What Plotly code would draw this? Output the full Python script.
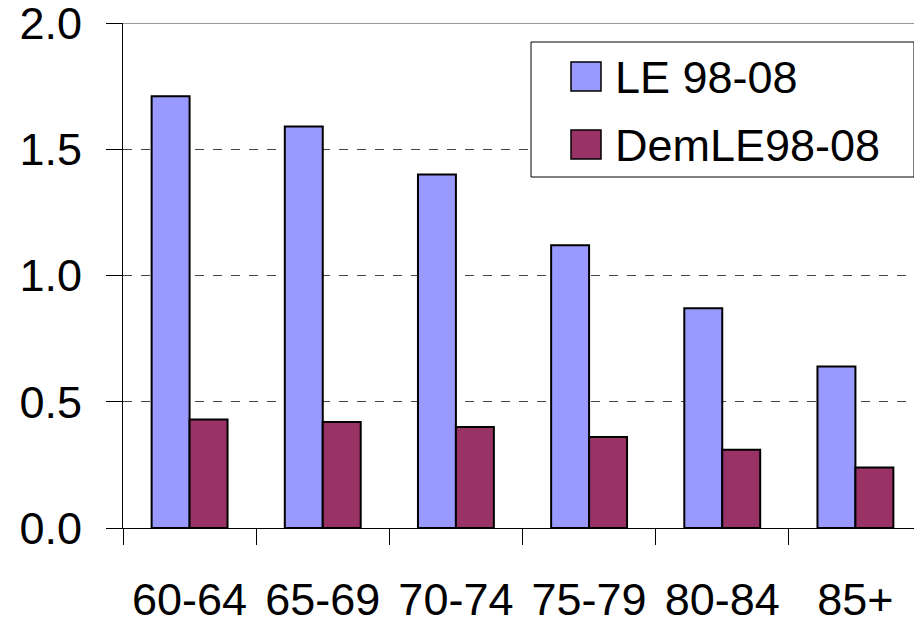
import plotly.graph_objects as go

categories = ["60-64", "65-69", "70-74", "75-79", "80-84", "85+"]
le_values = [1.71, 1.59, 1.40, 1.12, 0.87, 0.64]
dem_values = [0.43, 0.42, 0.40, 0.36, 0.31, 0.24]
y_ticks = [0.0, 0.5, 1.0, 1.5, 2.0]
y_ticklabels = ["0.0", "0.5", "1.0", "1.5", "2.0"]
series_names = ["LE 98-08", "DemLE98-08"]
series_colors = ["#9999FF", "#993366"]

# page body has an 8px margin, so the figure is offset by 8px
OFF = 8
W, H = 914, 616
L, R, T, B = 115, 0, 15, 96
PW, PH = W - L - R, H - T - B

def px_x(p):  # page pixel -> paper x
    return (p - OFF - L) / PW

def px_y(p):  # page pixel -> paper y
    return (H - B - (p - OFF)) / PH

fig = go.Figure()
for name, vals, col in zip(series_names, [le_values, dem_values], series_colors):
    fig.add_trace(go.Bar(name=name, x=categories, y=vals, showlegend=False,
                         marker=dict(color=col, line=dict(color="black", width=2))))

font = dict(family="Liberation Sans, Arial, sans-serif", size=45, color="black")

fig.update_layout(
    width=W, height=H,
    margin=dict(l=L, r=R, t=T, b=B),
    paper_bgcolor="white", plot_bgcolor="white",
    font=font,
    barmode="group", bargap=0.43, bargroupgap=0,
    showlegend=False,
    xaxis=dict(showline=True, linecolor="black", linewidth=1,
               ticks="outside", tickson="boundaries", ticklen=16, tickcolor="black",
               showgrid=False, ticklabelstandoff=32, fixedrange=True, automargin=False,
               ticklabeloverflow="allow"),
    yaxis=dict(range=[0, 2.0], tickvals=y_ticks, ticktext=y_ticklabels,
               showline=True, linecolor="black", linewidth=1,
               ticks="outside", ticklen=16, tickcolor="black",
               showgrid=True, gridcolor="#444444", griddash="dash", gridwidth=1,
               zeroline=False, ticklabelstandoff=15, fixedrange=True, automargin=False,
               ticklabeloverflow="allow"),
)
fig.add_shape(type="line", xref="paper", yref="y", x0=0, x1=1, y0=2.0, y1=2.0,
              line=dict(color="#999999", width=2))

# legend box (drawn manually to match large legend keys)
fig.add_shape(type="rect", xref="paper", yref="paper",
              x0=px_x(531), x1=px_x(914), y0=px_y(177), y1=px_y(42),
              line=dict(color="black", width=1), fillcolor="white", layer="above")
key_tops = [62, 130]
for name, col, top in zip(series_names, series_colors, key_tops):
    fig.add_shape(type="rect", xref="paper", yref="paper",
                  x0=px_x(571), x1=px_x(601), y0=px_y(top + 29), y1=px_y(top),
                  line=dict(color="black", width=1.5), fillcolor=col, layer="above")
    fig.add_annotation(xref="paper", yref="paper", x=px_x(613), y=px_y(top + 15),
                       xanchor="left", yanchor="middle", text=name, showarrow=False,
                       font=dict(size=45, color="black"))

fig.write_html("out.html")
